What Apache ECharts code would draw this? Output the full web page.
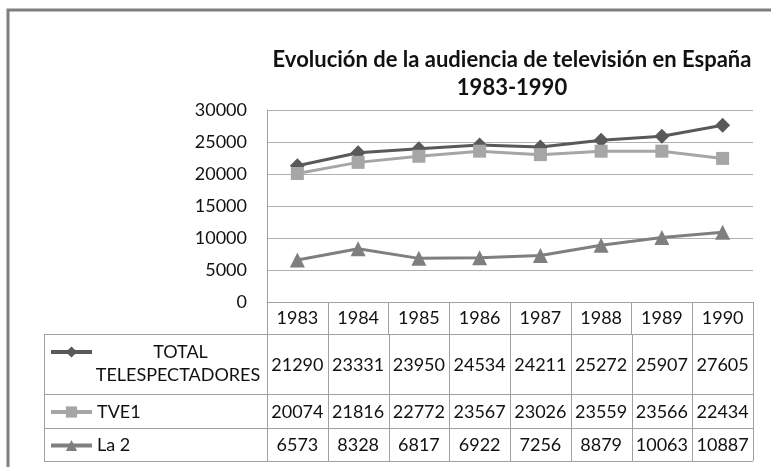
<!DOCTYPE html>
<html>
<head>
<meta charset="utf-8">
<script src="https://cdn.jsdelivr.net/npm/echarts@6/dist/echarts.min.js"></script>
<style>
  html, body { margin: 0; padding: 0; background: #fff; }
  #chart { width: 771px; height: 467px; }
</style>
</head>
<body>
<div id="chart"></div>
<script>
  // datos de la tabla
  var years = ['1983', '1984', '1985', '1986', '1987', '1988', '1989', '1990'];
  var totalTele = [21290, 23331, 23950, 24534, 24211, 25272, 25907, 27605];
  var tve1 = [20074, 21816, 22772, 23567, 23026, 23559, 23566, 22434];
  var la2 = [6573, 8328, 6817, 6922, 7256, 8879, 10063, 10887];
  var yTicks = [0, 5000, 10000, 15000, 20000, 25000, 30000];

  var FONT = 'Lato, "Open Sans", sans-serif';
  var TXT = '#111';
  var TABLE_LINE = '#a0a0a0';

  var chart = echarts.init(document.getElementById('chart'), null, { renderer: 'canvas' });

  var rows = [
    { name: 'TOTAL TELESPECTADORES', data: totalTele, top: 334, bottom: 394, color: '#595959', symbol: 'diamond', size: 15 },
    { name: 'TVE1', data: tve1, top: 394, bottom: 428, color: '#a6a6a6', symbol: 'rect', size: 13 },
    { name: 'La 2', data: la2, top: 428, bottom: 461, color: '#7f7f7f', symbol: 'triangle', size: 15 }
  ];

  var option = {
    backgroundColor: '#fff',
    animation: false,
    grid: { left: 267, right: 18, top: 110, bottom: 165 },
    xAxis: {
      type: 'category',
      data: years,
      boundaryGap: true,
      axisLine: { show: true, lineStyle: { color: TABLE_LINE, width: 1 } },
      axisTick: { show: true, length: 32, inside: false, lineStyle: { color: TABLE_LINE } },
      axisLabel: { margin: 7, fontSize: 18, fontFamily: FONT, color: TXT }
    },
    yAxis: {
      type: 'value',
      min: yTicks[0],
      max: yTicks[yTicks.length - 1],
      interval: 5000,
      axisLine: { show: true, lineStyle: { color: TABLE_LINE, width: 1 } },
      axisTick: { show: false },
      axisLabel: { margin: 20, fontSize: 18, fontFamily: FONT, color: TXT,
        formatter: function (v) { return String(v); } },
      splitLine: { lineStyle: { color: '#b0b0b0', width: 1 } }
    },
    legend: rows.map(function (r, i) {
      var h = r.bottom - r.top;
      var cy = i === 0 ? 351 : r.top + h / 2;
      return {
        data: [r.name],
        left: 49,
        top: cy - 9,
        padding: 0,
        itemWidth: 41,
        itemHeight: 14,
        selectedMode: false,
        lineStyle: { width: 4 },
        textStyle: {
          fontSize: 18, fontFamily: FONT, color: TXT, lineHeight: 20,
          rich: { a: { width: 167, align: 'center', fontSize: 18, fontFamily: FONT, color: TXT, lineHeight: 20 } }
        },
        formatter: i === 0 ? '{a|TOTAL}' : '{name}'
      };
    }),
    series: rows.map(function (r) {
      return {
        name: r.name,
        type: 'line',
        data: r.data,
        symbol: r.symbol,
        symbolSize: r.size,
        color: r.color,
        lineStyle: { width: 3, color: r.color },
        itemStyle: { color: r.color }
      };
    })
  };

  chart.setOption(option);

  // tabla de datos bajo el eje, alineada con las categorías
  function buildTable() {
    var g = [];
    var x0 = chart.convertToPixel({ xAxisIndex: 0 }, 0);
    var x1 = chart.convertToPixel({ xAxisIndex: 0 }, 1);
    var band = x1 - x0;
    var leftEdge = 44;
    var axisLeft = x0 - band / 2;
    var rightEdge = x0 + band * (years.length - 0.5);
    var tableTop = rows[0].top;
    var tableBottom = rows[rows.length - 1].bottom;

    // marco exterior
    g.push({ type: 'rect', shape: { x: 8, y: 10, width: 800, height: 500 },
      style: { fill: null, stroke: '#7f7f7f', lineWidth: 3 }, z: 100 });

    // título
    g.push({ type: 'text', x: 512, y: 60,
      style: { text: 'Evolución de la audiencia de televisión en España', font: 'bold 22px ' + FONT,
        fill: TXT, align: 'center', verticalAlign: 'middle' } });
    g.push({ type: 'text', x: 512, y: 88,
      style: { text: '1983-1990', font: 'bold 22px ' + FONT, fill: TXT, align: 'center', verticalAlign: 'middle' } });

    // líneas horizontales
    var hs = [tableTop].concat(rows.map(function (r) { return r.bottom; }));
    hs.forEach(function (y) {
      g.push({ type: 'line', shape: { x1: leftEdge, y1: y + 0.5, x2: rightEdge, y2: y + 0.5 },
        style: { stroke: TABLE_LINE, lineWidth: 1 } });
    });
    // líneas verticales
    g.push({ type: 'line', shape: { x1: leftEdge + 0.5, y1: tableTop, x2: leftEdge + 0.5, y2: tableBottom },
      style: { stroke: TABLE_LINE, lineWidth: 1 } });
    for (var k = 0; k <= years.length; k++) {
      var xb = Math.round(axisLeft + band * k) + 0.5;
      g.push({ type: 'line', shape: { x1: xb, y1: tableTop, x2: xb, y2: tableBottom },
        style: { stroke: TABLE_LINE, lineWidth: 1 } });
    }
    // segunda línea del nombre TOTAL
    g.push({ type: 'text', x: 178, y: 375,
      style: { text: 'TELESPECTADORES', font: '18px ' + FONT, fill: TXT, align: 'center', verticalAlign: 'middle' } });

    // valores
    rows.forEach(function (r) {
      var cy = (r.top + r.bottom) / 2;
      r.data.forEach(function (v, i) {
        var cx = chart.convertToPixel({ xAxisIndex: 0 }, i);
        g.push({ type: 'text', x: cx, y: cy + 1,
          style: { text: String(v), font: '18px ' + FONT, fill: TXT, align: 'center', verticalAlign: 'middle' } });
      });
    });
    chart.setOption({ graphic: g });
  }
  buildTable();

  window.addEventListener('resize', function () {
    chart.resize();
  });
</script>
</body>
</html>
